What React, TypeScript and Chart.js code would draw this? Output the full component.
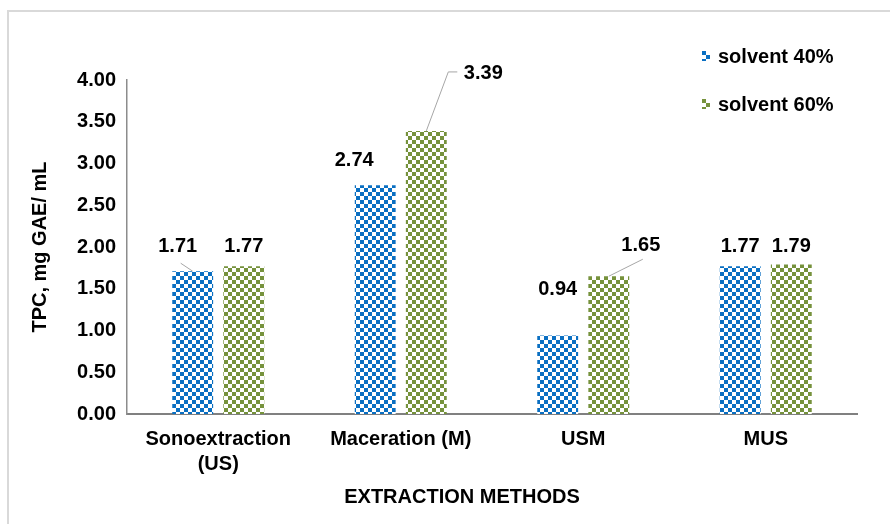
import { useEffect, useRef } from 'react';
import { Chart, registerables } from 'chart.js';

Chart.register(...registerables);

// Categories and series values
const methods: (string | string[])[] = [['Sonoextraction', '(US)'], 'Maceration (M)', 'USM', 'MUS'];
const seriesNames = ['solvent 40%', 'solvent 60%'];
const solvent40 = [1.71, 2.74, 0.94, 1.77];
const solvent60 = [1.77, 3.39, 1.65, 1.79];
const yMin = 0;
const yMax = 4;
const yStep = 0.5;

const FONT = "'Liberation Sans', Arial, sans-serif";
const FS = 20;
const BLUE = '#0A6FC2';
const GREEN = '#76923C';

// Value-label placement: [dx, dy] from the bar's top centre to the label centre
const labelShift40: [number, number][] = [[-15, -25], [-21, -25], [0, -46], [0, -20]];
const labelShift60: [number, number][] = [[0, -20], [57, -57], [32, -31], [0, -18]];
// Leader-line points, relative to the label centre, drawn toward the bar top
const leader40: ([number, number][] | null)[] = [[[3, 17]], null, null, null];
const leader60: ([number, number][] | null)[] = [null, [[-26, -2], [-35, -2]], [[2, 14]], null];

function checker(color: string): CanvasPattern | string {
  const c = document.createElement('canvas');
  c.width = 8;
  c.height = 8;
  const g = c.getContext('2d');
  if (!g) return color;
  g.fillStyle = '#ffffff';
  g.fillRect(0, 0, 8, 8);
  g.fillStyle = color;
  g.fillRect(0, 0, 4, 4);
  g.fillRect(4, 4, 4, 4);
  const p = g.createPattern(c, 'repeat');
  return p || color;
}

const decorations = {
  id: 'decorations',
  afterDraw(chart: any) {
    const ctx = chart.ctx as CanvasRenderingContext2D;
    ctx.save();
    // outer frame (top and left edges)
    ctx.strokeStyle = '#d9d9d9';
    ctx.lineWidth = 2;
    ctx.beginPath();
    ctx.moveTo(8, 524);
    ctx.lineTo(8, 11);
    ctx.lineTo(890, 11);
    ctx.stroke();

    // value labels with leader lines
    const shifts = [labelShift40, labelShift60];
    const leaders = [leader40, leader60];
    ctx.font = `bold ${FS}px ${FONT}`;
    ctx.textAlign = 'center';
    ctx.textBaseline = 'middle';
    chart.data.datasets.forEach((ds: any, di: number) => {
      const meta = chart.getDatasetMeta(di);
      meta.data.forEach((bar: any, i: number) => {
        const [dx, dy] = shifts[di][i];
        const lx = bar.x + dx;
        const ly = bar.y + dy;
        const path = leaders[di][i];
        if (path) {
          ctx.strokeStyle = '#a6a6a6';
          ctx.lineWidth = 1;
          ctx.beginPath();
          ctx.moveTo(lx + path[0][0], ly + path[0][1]);
          for (let k = 1; k < path.length; k++) ctx.lineTo(lx + path[k][0], ly + path[k][1]);
          ctx.lineTo(bar.x, bar.y);
          ctx.stroke();
        }
        ctx.fillStyle = '#000000';
        ctx.fillText(Number(ds.data[i]).toFixed(2), lx, ly);
      });
    });

    // legend
    const items = chart.data.datasets;
    items.forEach((ds: any, di: number) => {
      const y = 57 + di * 48;
      ctx.fillStyle = ds.backgroundColor;
      ctx.save();
      ctx.translate(702, y - 6);
      ctx.fillRect(0, 0, 8, 10);
      ctx.restore();
      ctx.fillStyle = '#000000';
      ctx.textAlign = 'left';
      ctx.fillText(ds.label, 718, y);
    });

    // x-axis title
    ctx.textAlign = 'center';
    ctx.fillText('EXTRACTION METHODS', 462, 497);
    ctx.restore();
  },
};

export default function App() {
  const ref = useRef<HTMLCanvasElement | null>(null);

  useEffect(() => {
    const canvas = ref.current;
    if (!canvas) return;
    const chart = new Chart(canvas, {
      type: 'bar',
      data: {
        labels: methods,
        datasets: [
          { label: seriesNames[0], data: solvent40, backgroundColor: checker(BLUE) as any, borderWidth: 0 },
          { label: seriesNames[1], data: solvent60, backgroundColor: checker(GREEN) as any, borderWidth: 0 },
        ],
      },
      options: {
        animation: false,
        responsive: false,
        devicePixelRatio: 1,
        layout: { padding: { left: 0, right: 33, top: 80, bottom: 0 } },
        datasets: { bar: { categoryPercentage: 0.56, barPercentage: 0.8 } },
        plugins: { legend: { display: false }, tooltip: { enabled: false } },
        scales: {
          x: {
            grid: { display: false, drawTicks: false },
            border: { display: true, color: '#808080', width: 2 },
            ticks: {
              color: '#000000',
              padding: 13,
              maxRotation: 0,
              autoSkip: false,
              font: { family: FONT, size: FS, weight: 'bold', lineHeight: 1.25 },
            },
            afterFit(scale: any) {
              scale.height = 110;
            },
          },
          y: {
            min: yMin,
            max: yMax,
            grid: { display: false, drawTicks: false },
            border: { display: true, color: '#8c8c8c', width: 1.5 },
            ticks: {
              stepSize: yStep,
              color: '#000000',
              padding: 11,
              font: { family: FONT, size: FS, weight: 'bold' },
              callback: (v: any) => Number(v).toFixed(2),
            },
            title: {
              display: true,
              text: 'TPC, mg GAE/ mL',
              color: '#000000',
              padding: { top: 28, bottom: 0 },
              font: { family: FONT, size: FS, weight: 'bold' },
            },
            afterFit(scale: any) {
              scale.width = 127;
            },
          },
        },
      },
      plugins: [decorations],
    });
    return () => chart.destroy();
  }, []);

  return (
    <div style={{ position: 'fixed', left: 0, top: 0, width: 890, height: 524, background: '#ffffff' }}>
      <canvas ref={ref} width={890} height={524} style={{ display: 'block' }} />
    </div>
  );
}
